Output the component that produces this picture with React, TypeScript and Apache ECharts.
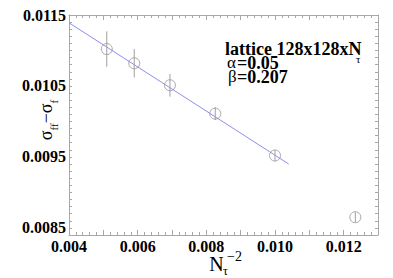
import React, { useEffect, useRef } from 'react';
import * as echarts from 'echarts';

// N_tau^-2 for N_tau = 14, 13, 12, 11, 10, 9
const xValues = [0.0051, 0.0059, 0.00694, 0.00826, 0.01, 0.01234];
const yValues = [0.01102, 0.01082, 0.01051, 0.01011, 0.00952, 0.00865];
const yErrors = [0.00025, 0.0002, 0.00016, 0.00009, 0.00008, 0.00007];
const fitX = [0.004, 0.0104];
const fitY = [0.01139, 0.0094];
const xTickLabels = ['0.004', '0.006', '0.008', '0.010', '0.012'];
const yTickLabels = ['0.0085', '0.0095', '0.0105', '0.0115'];

const SERIF = 'Liberation Serif';
const AXIS_GRAY = '#a8a8a8';

export default function App() {
  const ref = useRef<HTMLDivElement>(null);
  useEffect(() => {
    if (!ref.current) return;
    const chart = echarts.init(ref.current, null, { renderer: 'svg' });
    const labelStyle = {
      fontFamily: SERIF,
      fontWeight: 'bold' as const,
      fontSize: 16,
      color: '#000',
    };
    const xBase = {
      type: 'value' as const,
      min: 0.004,
      max: 0.013,
      interval: 0.001,
      splitLine: { show: false },
      axisLine: { lineStyle: { color: AXIS_GRAY, width: 1 } },
      axisTick: { inside: true, length: 5, lineStyle: { color: AXIS_GRAY } },
      minorTick: { show: true, splitNumber: 5, length: 3, lineStyle: { color: AXIS_GRAY } },
    };
    const yBase = {
      type: 'value' as const,
      min: 0.0084,
      max: 0.0115,
      interval: 0.0001,
      splitLine: { show: false },
      axisLine: { lineStyle: { color: AXIS_GRAY, width: 1 } },
      axisTick: { inside: true, length: 3, lineStyle: { color: AXIS_GRAY } },
    };
    const txt = (x: number, y: number, text: string, size: number, bold: boolean, align = 'left') => ({
      type: 'text',
      x,
      y,
      style: {
        text,
        fontFamily: SERIF,
        fontSize: size,
        fontWeight: bold ? 'bold' : 'normal',
        fill: '#000',
        align,
        verticalAlign: 'middle',
      },
    });
    chart.setOption({
      animation: false,
      backgroundColor: '#fff',
      grid: { left: 69, right: 15, top: 15, bottom: 43 },
      xAxis: [
        {
          ...xBase,
          position: 'bottom',
          axisLabel: {
            ...labelStyle,
            margin: 3,
            formatter: (v: number) => {
              const s = v.toFixed(3);
              return xTickLabels.includes(s) ? s : '';
            },
          },
        },
        { ...xBase, position: 'top', axisLabel: { show: false } },
      ],
      yAxis: [
        {
          ...yBase,
          position: 'left',
          axisLabel: {
            ...labelStyle,
            margin: 3,
            formatter: (v: number) => {
              const s = v.toFixed(4);
              return yTickLabels.includes(s) ? s : '';
            },
          },
        },
        { ...yBase, position: 'right', axisLabel: { show: false } },
      ],
      series: [
        {
          type: 'line',
          data: fitX.map((x, i) => [x, fitY[i]]),
          symbol: 'none',
          lineStyle: { color: '#8e8ef2', width: 1 },
          z: 2,
        },
        {
          type: 'custom',
          data: xValues.map((x, i) => [x, yValues[i], yErrors[i]]),
          renderItem: (_params: any, api: any) => {
            const x = api.value(0);
            const y = api.value(1);
            const e = api.value(2);
            const p1 = api.coord([x, y + e]);
            const p2 = api.coord([x, y - e]);
            return {
              type: 'line',
              shape: { x1: p1[0], y1: p1[1], x2: p2[0], y2: p2[1] },
              style: { stroke: '#a0a0a0', lineWidth: 1 },
            };
          },
          z: 3,
        },
        {
          type: 'scatter',
          data: xValues.map((x, i) => [x, yValues[i]]),
          symbol: 'circle',
          symbolSize: 11,
          itemStyle: { color: 'rgba(0,0,0,0)', borderColor: '#959595', borderWidth: 1 },
          z: 4,
        },
      ],
      graphic: [
        txt(225, 49, 'lattice 128x128xN', 18, true),
        txt(356, 59, 'τ', 11, false),
        txt(227, 62, 'α', 17, false),
        txt(237, 63, '=0.05', 18, true),
        txt(228, 76, 'β', 17, false),
        txt(237, 77, '=0.207', 18, true),
        // x-axis name N_tau^-2
        txt(216.5, 264, 'N', 20, false, 'center'),
        txt(225.5, 271, 'τ', 12, false, 'center'),
        txt(227, 256, '−2', 14, false),
        // y-axis name sigma_ff - sigma_f (rotated)
        {
          type: 'text',
          x: 46,
          y: 120,
          rotation: Math.PI / 2,
          style: {
            text: '{a|σ}{b|ff}{a|−σ}{b|f}',
            align: 'center',
            verticalAlign: 'middle',
            fill: '#000',
            rich: {
              a: { fontFamily: SERIF, fontSize: 18, lineHeight: 26, verticalAlign: 'middle', fill: '#000' },
              b: { fontFamily: SERIF, fontSize: 11, lineHeight: 11, verticalAlign: 'bottom', fill: '#000' },
            },
          },
        },
      ],
    });
    return () => chart.dispose();
  }, []);
  return (
    <div
      ref={ref}
      style={{ position: 'fixed', left: 0, top: 0, width: 393, height: 278, background: '#fff' }}
    />
  );
}
